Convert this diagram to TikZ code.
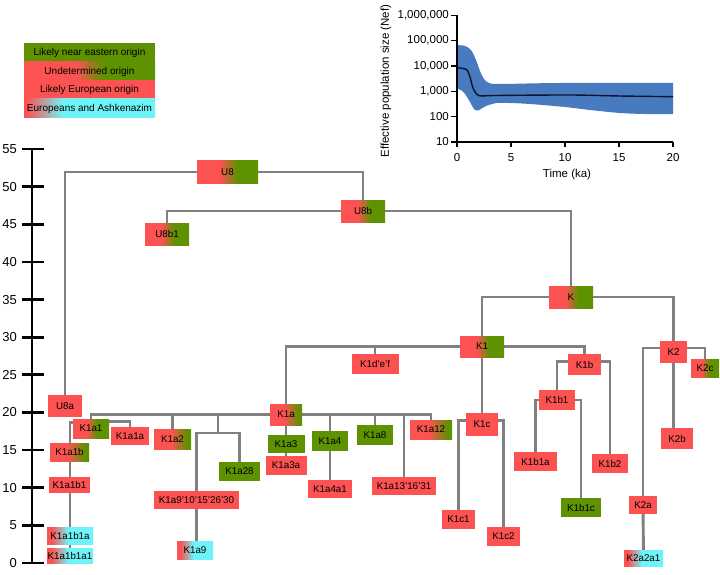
\documentclass[tikz,border=0pt]{standalone}
\usepackage{fontspec}
\setmainfont{Liberation Sans}
\usetikzlibrary{calc}
\definecolor{myred}{RGB}{252,82,82}
\definecolor{mygreen}{RGB}{94,146,0}
\definecolor{mycyan}{RGB}{110,244,248}
\definecolor{conn}{RGB}{128,128,128}
\definecolor{band}{RGB}{72,122,192}
\definecolor{med}{RGB}{10,20,45}
\pgfdeclarelayer{background}
\pgfsetlayers{background,main}
\pgfdeclarehorizontalshading{rgA}{100bp}{color(0bp)=(myred); color(25bp)=(myred); color(44bp)=(myred); color(58bp)=(mygreen); color(75bp)=(mygreen); color(100bp)=(mygreen)}
\pgfdeclarehorizontalshading{rgB}{100bp}{color(0bp)=(myred); color(25bp)=(myred); color(48bp)=(myred); color(70bp)=(mygreen); color(75bp)=(mygreen); color(100bp)=(mygreen)}
\pgfdeclarehorizontalshading{rgL}{100bp}{color(0bp)=(myred); color(25bp)=(myred); color(45bp)=(myred); color(55bp)=(mygreen); color(75bp)=(mygreen); color(100bp)=(mygreen)}
\pgfdeclarehorizontalshading{rcA}{100bp}{color(0bp)=(myred); color(25bp)=(myred); color(30bp)=(myred); color(48bp)=(mycyan); color(75bp)=(mycyan); color(100bp)=(mycyan)}
\pgfdeclarehorizontalshading{rcL}{100bp}{color(0bp)=(myred); color(25bp)=(myred); color(26bp)=(myred); color(40bp)=(mycyan); color(75bp)=(mycyan); color(100bp)=(mycyan)}
\tikzset{
  hg/.style={inner sep=0pt, font=\fontsize{9.8}{11}\selectfont, text=black},
  R/.style={hg, fill=myred},
  G/.style={hg, fill=mygreen},
  RG/.style={hg, shading=rgA},
  RGb/.style={hg, shading=rgB},
  RC/.style={hg, shading=rcA},
  sz/.style 2 args={minimum width=#1pt, minimum height=#2pt},
  link/.style={draw=conn, line width=2.9pt},
  axisline/.style={draw=black, line width=2.8pt},
  inaxis/.style={draw=black, line width=1.2pt},
  legrow/.style={inner sep=0pt, minimum width=131pt, minimum height=19pt, font=\fontsize{10}{11}\selectfont},
  ticklab/.style={anchor=east, inner sep=0pt, font=\fontsize{13}{14}\selectfont},
  intick/.style={inner sep=0pt, font=\fontsize{11.5}{13}\selectfont},
}
\begin{document}
\begin{tikzpicture}[x=1pt,y=-1pt]
\useasboundingbox (0,0) rectangle (720,575);

% ---------- legend ----------
\node[legrow, fill=mygreen] (L1) at (89.5,52.5) {Likely near eastern origin};
\node[legrow, shading=rgL] (L2) at (89.5,71.5) {Undetermined origin};
\node[legrow, fill=myred] (L3) at (89.5,90) {Likely European origin};
\node[legrow, shading=rcL] (L4) at (89.5,108.5) {Europeans and Ashkenazim};

% ---------- inset plot ----------
\fill[band] plot[smooth, tension=0.5] coordinates {(457,45) (465,46) (471,50) (476,60) (480,71) (484,79) (489,83) (500,84) (560,83) (673,83)}
  -- plot[smooth, tension=0.5] coordinates {(673,114) (645,114) (620,113) (590,110) (565,107) (530,104) (510,103) (497,103) (486,106) (478,110.5) (474,109) (470,102) (465,94) (461,90) (457,89)} -- cycle;
\draw[med, line width=1.4pt] plot[smooth, tension=0.5] coordinates {(457,67.7) (463,68.5) (467,70) (470,77) (473,88) (477,94.5) (482,96) (495,95.5) (570,95) (620,96) (673,96.7)};
\draw[inaxis] (457,15) -- (457,142) -- (673,142);
\foreach \k/\lab in {1/10,2/100,3/{1,000},4/{10,000},5/{100,000},6/{1,000,000}} {
  \pgfmathsetmacro\yy{142-25.35*(\k-1)}
  \draw[inaxis] (451,\yy) -- (457,\yy);
  \node[intick, anchor=east] (iy\k) at (449,\yy) {\lab};
}
\foreach \t in {0,5,10,15,20} {
  \pgfmathsetmacro\xx{457+10.8*\t}
  \draw[inaxis] (\xx,142) -- (\xx,147);
  \node[intick] (ix\t) at (\xx,157.5) {\t};
}
\node[intick] (ixlab) at (567,175) {Time (ka)};
\node[intick, rotate=90] (iylab) at (386,81) {Effective population size (Nef)};

% ---------- time axis ----------
\draw[axisline] (32,149) -- (32,563);
\foreach \v in {0,5,...,55} {
  \pgfmathsetmacro\yy{563-7.527*\v}
  \draw[axisline] (22,\yy) -- (44,\yy);
  \node[ticklab] (t\v) at (17,\yy) {\v};
}

% ---------- tree nodes ----------
\node[RG, sz={61}{23}] (U8) at (227.5,172) {U8};
\node[RG, sz={44}{22}] (U8b) at (363,211) {U8b};
\node[RG, sz={44}{22}] (U8b1) at (167,234) {U8b1};
\node[RG, sz={44}{22}] (K) at (571,297) {K};
\node[RG, sz={44}{21}] (K1) at (482,346.5) {K1};
\node[R, sz={47}{20}] (K1d) at (375,364) {K1d’e’f};
\node[R, sz={33}{21}] (K1b) at (584.5,364.5) {K1b};
\node[R, sz={36}{20}] (K1b1) at (557,400) {K1b1};
\node[R, sz={43}{19}] (K1b1a) at (535.5,461.5) {K1b1a};
\node[R, sz={36}{19}] (K1b2) at (610,463.5) {K1b2};
\node[G, sz={40}{19}] (K1b1c) at (581,507.5) {K1b1c};
\node[R, sz={32}{23}] (K1c) at (482,424.5) {K1c};
\node[R, sz={33}{19}] (K1c1) at (458.5,519.5) {K1c1};
\node[R, sz={33}{19}] (K1c2) at (503.5,536.5) {K1c2};
\node[R, sz={27}{22}] (K2) at (673.5,352) {K2};
\node[RG, sz={28}{18}] (K2c) at (705,368) {K2c};
\node[R, sz={32}{21}] (K2b) at (677,438.5) {K2b};
\node[R, sz={28}{18}] (K2a) at (643,505) {K2a};
\node[RC, sz={39}{16}] (K2a2a1) at (643.5,558) {K2a2a1};
\node[RGb, sz={32}{21}] (K1a) at (286,414.5) {K1a};
\node[G, sz={37}{18}] (K1a3) at (286,444) {K1a3};
\node[R, sz={41}{19}] (K1a3a) at (286,465.5) {K1a3a};
\node[G, sz={36}{20}] (K1a4) at (330,441) {K1a4};
\node[R, sz={44}{18}] (K1a4a1) at (330,489) {K1a4a1};
\node[G, sz={36}{20}] (K1a8) at (375,435) {K1a8};
\node[R, sz={64}{18}] (K1a13) at (404,486) {K1a13’16’31};
\node[RGb, sz={42}{19}] (K1a12) at (431,429.5) {K1a12};
\node[RG, sz={36}{19}] (K1a1) at (91,428.5) {K1a1};
\node[R, sz={38}{18}] (K1a1a) at (130,436) {K1a1a};
\node[RGb, sz={39}{18}] (K1a1b) at (69.5,452) {K1a1b};
\node[R, sz={41}{16}] (K1a1b1) at (69.5,485) {K1a1b1};
\node[RC, sz={46}{17}] (K1a1b1a) at (70,535.5) {K1a1b1a};
\node[RC, sz={46}{15}] (K1a1b1a1) at (70,555.5) {K1a1b1a1};
\node[R, sz={34}{22}] (U8a) at (65,406) {U8a};
\node[RGb, sz={37}{20}] (K1a2) at (172.5,439) {K1a2};
\node[G, sz={41}{19}] (K1a28) at (239.5,471.5) {K1a28};
\node[R, sz={85}{18}] (K1a9x) at (196.5,500) {K1a9’10’15’26’30};
\node[RC, sz={36}{18}] (K1a9) at (195,550) {K1a9};
\coordinate (j9) at (218,433);

% ---------- connectors ----------
\begin{pgfonlayer}{background}
\draw[link] (U8.west) -| (U8a.north);
\draw[link] (U8.east) -| (U8b.north);
\draw[link] (U8b.west) -| (U8b1.north);
\draw[link] (U8b.east) -| (K.north);
\draw[link] (K.west) -| (K1.north);
\draw[link] (K.east) -| (K2.north);
\draw[link] (K1.west) -| (K1a.north);
\draw[link] (K1d.north |- K1.center) -- (K1d.north);
\draw[link] (K1.east) -| (K1b.north);
\draw[link] (K1.south) -- (K1c.north);
\draw[link] (K1b1.north) |- ([yshift=3pt]K1b.center) -| (K1b2.north);
\draw[link] (K1b1a.north) |- (K1b1.center) -| (K1b1c.north);
\draw[link] (K1c1.north) |- ([yshift=4pt]K1c.center) -| (K1c2.north);
\draw[link] (K2a.north) |- ([yshift=4pt]K2.center) -| (K2c.north);
\draw[link] (K2.south) -- (K2.south |- K2b.north);
\draw[link] (K2a) -- (K2a2a1);
\draw[link] (K1a1.north) |- (K1a.center) -| (K1a12.north);
\draw[link] (K1a) -- (K1a3);
\draw[link] (K1a3) -- (K1a3a);
\draw[link] (K1a2.north |- K1a.center) -- (K1a2.north);
\draw[link] (j9 |- K1a.center) -- (j9);
\draw[link] (K1a9x.north) |- (j9) -| (K1a28.north);
\draw[link] (K1a9x.south) -- (K1a9x.south |- K1a9.north);
\draw[link] (K1a4.north |- K1a.center) -- (K1a4.north);
\draw[link] (K1a4) -- (K1a4a1);
\draw[link] (K1a8.north |- K1a.center) -- (K1a8.north);
\draw[link] (K1a13.north |- K1a.center) -- (K1a13.north);
\draw[link] (K1a1a.north) |- ([yshift=-3pt]K1a1.north);
\draw[link] (K1a1b1a.north) |- ([yshift=-4pt]K1a1.north);
\draw[link] (K1a1b1a) -- (K1a1b1a1);
\end{pgfonlayer}
\end{tikzpicture}
\end{document}
